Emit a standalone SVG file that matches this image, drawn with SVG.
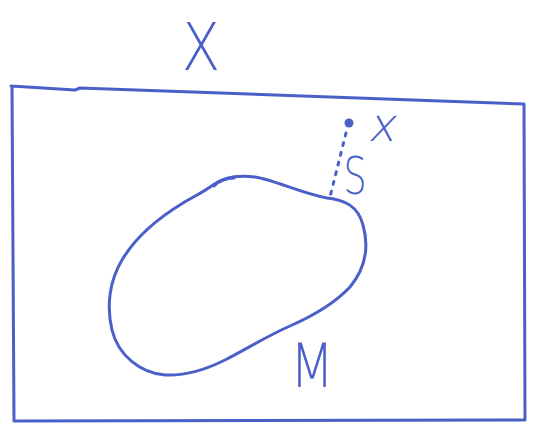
<svg xmlns="http://www.w3.org/2000/svg" width="534" height="431" viewBox="0 0 534 431">
<style>
.ink{fill:none;stroke:#4a60c8;stroke-width:3;stroke-linecap:round;stroke-linejoin:round}
.lbl{fill:#4a60c8;font-family:"DejaVu Sans","Liberation Sans",sans-serif;font-weight:200}
</style>
<rect width="534" height="431" fill="#fff"/>
<path class="ink" d="M11,86 L75,90 L80,88 L524,104 L525,420 L14,421 L12,86 Z"/>
<path class="ink" d="M213,185 C225,176 240,175 255,177 C275,180 300,193 327,198 C345,200 358,206 363,225 C370,250 364,270 350,287 C335,303 315,315 290,326 C265,337 245,350 225,360 C205,370 185,376 165,375 C140,373 118,355 112,330 C106,305 110,280 122,260 C135,238 155,220 183,203 C195,196 205,191 213,185 Z"/>
<path class="ink" d="M214,186 C220,180 228,178 234,178"/>
<circle cx="349" cy="123" r="4.5" fill="#4a60c8"/>
<path class="ink" d="M346,133 L330,197" stroke-dasharray="3,7" stroke-width="2.5"/>
<text class="lbl" font-size="66" text-anchor="middle" transform="translate(201,70) scale(0.85,1)">X</text>
<text class="lbl" font-size="46" text-anchor="middle" transform="translate(381,141) skewX(-12)">x</text>
<text class="lbl" font-size="52" text-anchor="middle" transform="translate(355,194) scale(0.7,1)">S</text>
<text class="lbl" font-size="60" text-anchor="middle" transform="translate(312,387) scale(0.85,1)">M</text>
</svg>
